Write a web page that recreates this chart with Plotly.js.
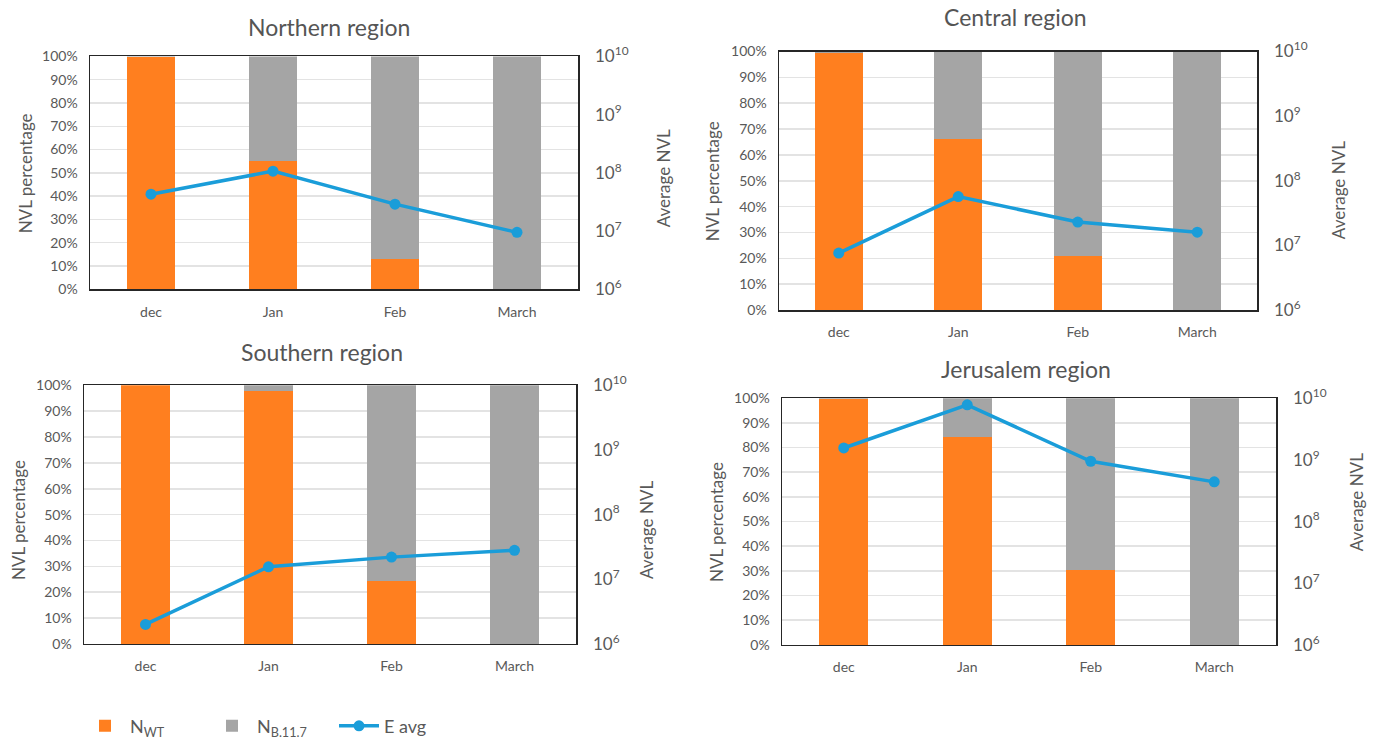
<!DOCTYPE html>
<html>
<head>
<meta charset="utf-8">
<script src="https://cdn.plot.ly/plotly-3.0.1.min.js"></script>
<style>html,body{margin:0;padding:0;background:#fff;}#chart{width:1373px;height:745px;}</style>
</head>
<body>
<div id="chart"></div>
<script>
// ---- Data ----
const months = ['dec', 'Jan', 'Feb', 'March'];
const regionTitles = ['Northern region', 'Central region', 'Southern region', 'Jerusalem region'];

const wtNorthern = [99.6, 55.3, 13.0, 0];
const b117Northern = [0.4, 44.7, 87.0, 100];
const eavgNorthern = [4.3e7, 1.07e8, 2.9e7, 9.5e6];

const wtCentral = [99.6, 66.2, 20.8, 0];
const b117Central = [0.4, 33.8, 79.2, 100];
const eavgCentral = [7.6e6, 5.7e7, 2.3e7, 1.6e7];

const wtSouthern = [100, 98.0, 24.3, 0];
const b117Southern = [0, 2.0, 75.7, 100];
const eavgSouthern = [2.0e6, 1.56e7, 2.2e7, 2.8e7];

const wtJerusalem = [99.5, 84.1, 30.5, 0];
const b117Jerusalem = [0.5, 15.9, 69.5, 100];
const eavgJerusalem = [1.56e9, 7.8e9, 9.5e8, 4.4e8];

const pctTicks = [0, 10, 20, 30, 40, 50, 60, 70, 80, 90, 100];
const logTicks = [1e6, 1e7, 1e8, 1e9, 1e10];
const logTickText = ['10<sup>6</sup>', '10<sup>7</sup>', '10<sup>8</sup>', '10<sup>9</sup>', '10<sup>10</sup>'];

const wtSeries = [wtNorthern, wtCentral, wtSouthern, wtJerusalem];
const b117Series = [b117Northern, b117Central, b117Southern, b117Jerusalem];
const eavgSeries = [eavgNorthern, eavgCentral, eavgSouthern, eavgJerusalem];

// ---- Layout (pixel boxes) ----
const W = 1373, H = 745;
const px = x => x / W;
const py = y => 1 - y / H;
const boxes = [
  {l: 90, r: 578, t: 57, b: 292, title: [329, 27], ylt: [25, 175], y2t: [663, 180]},
  {l: 779, r: 1257, t: 52, b: 313, title: [1015, 17], ylt: [712, 183], y2t: [1338, 192]},
  {l: 84, r: 576, t: 389, b: 650, title: [322, 355], ylt: [18, 525], y2t: [647, 535]},
  {l: 782, r: 1276, t: 402, b: 651, title: [1026, 372], ylt: [716, 527], y2t: [1356, 507]}
];

const ORANGE = '#FF7F1F';
const GRAY = '#A5A5A5';
const BLUE = '#1A9DD9';
const TXT = '#595959';
const FONT = 'Lato, "Open Sans", sans-serif';

const traces = [];
const layout = {
  width: W, height: H,
  margin: {l: 0, r: 0, t: 0, b: 0},
  paper_bgcolor: '#fff', plot_bgcolor: '#fff',
  barmode: 'stack', bargap: 0.6,
  font: {family: FONT, color: TXT, size: 13},
  showlegend: true,
  legend: {orientation: 'h', x: px(80), y: py(733), xanchor: 'left', yanchor: 'middle',
           font: {size: 18, color: TXT}, entrywidth: 72, itemwidth: 40, bgcolor: 'rgba(0,0,0,0)'},
  annotations: []
};

boxes.forEach((b, i) => {
  const xa = i === 0 ? 'x' : 'x' + (i + 1);
  const ya = i === 0 ? 'y' : 'y' + (2 * i + 1);
  const ya2 = 'y' + (2 * i + 2);
  const xKey = i === 0 ? 'xaxis' : 'xaxis' + (i + 1);
  const yKey = i === 0 ? 'yaxis' : 'yaxis' + (2 * i + 1);
  const y2Key = 'yaxis' + (2 * i + 2);

  traces.push({type: 'bar', x: months, y: wtSeries[i], xaxis: xa, yaxis: ya,
    name: 'N<sub>WT</sub>', marker: {color: ORANGE}, showlegend: i === 0, legendgroup: 'wt'});
  traces.push({type: 'bar', x: months, y: b117Series[i], xaxis: xa, yaxis: ya,
    name: 'N<sub>B.11.7</sub>', marker: {color: GRAY}, showlegend: i === 0, legendgroup: 'b'});
  traces.push({type: 'scatter', mode: 'lines+markers', x: months, y: eavgSeries[i], xaxis: xa, yaxis: ya2,
    name: 'E avg', line: {color: BLUE, width: 3.5}, marker: {color: BLUE, size: 11},
    showlegend: i === 0, legendgroup: 'e'});

  layout[xKey] = {domain: [px(b.l), px(b.r)], anchor: ya, type: 'category',
    showline: true, linecolor: '#262626', linewidth: 1.5, mirror: true,
    ticks: '', ticklabelstandoff: 9, tickfont: {size: 14, color: TXT}, showgrid: false, fixedrange: true};
  layout[yKey] = {domain: [py(b.b), py(b.t)], anchor: xa, range: [0, 100],
    tickvals: pctTicks, ticktext: pctTicks.map(v => v + '%'),
    showline: true, linecolor: '#262626', linewidth: 1.5, mirror: true,
    gridcolor: '#E3E3E3', gridwidth: 1.5, zeroline: false, ticks: '', ticklabelstandoff: 8,
    tickfont: {size: 14, color: TXT}, fixedrange: true};
  layout[y2Key] = {overlaying: ya, side: 'right', anchor: xa, type: 'log', range: [6, 10],
    tickvals: logTicks, ticktext: logTickText, showgrid: false, zeroline: false,
    showline: false, ticks: '', ticklabelstandoff: 16, tickfont: {size: 17, color: TXT}, fixedrange: true};

  layout.annotations.push({text: regionTitles[i], xref: 'paper', yref: 'paper',
    x: px(b.title[0]), y: py(b.title[1]), xanchor: 'center', yanchor: 'middle', showarrow: false,
    font: {size: 23, color: '#555555'}});
  layout.annotations.push({text: 'NVL percentage', xref: 'paper', yref: 'paper', textangle: -90,
    x: px(b.ylt[0]), y: py(b.ylt[1]), xanchor: 'center', yanchor: 'middle', showarrow: false,
    font: {size: 17, color: TXT}});
  layout.annotations.push({text: 'Average NVL', xref: 'paper', yref: 'paper', textangle: -90,
    x: px(b.y2t[0]), y: py(b.y2t[1]), xanchor: 'center', yanchor: 'middle', showarrow: false,
    font: {size: 17, color: TXT}});
});

Plotly.newPlot('chart', traces, layout, {displayModeBar: false, staticPlot: true});
</script>
</body>
</html>
